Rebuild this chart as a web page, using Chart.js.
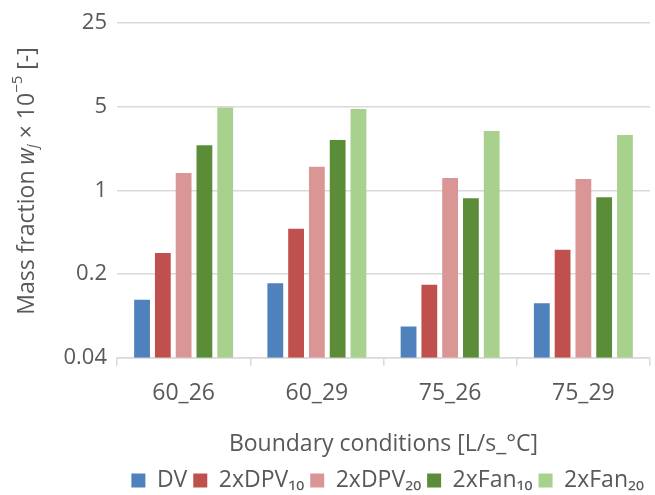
<!DOCTYPE html>
<html>
<head>
<meta charset="utf-8">
<script src="https://cdn.jsdelivr.net/npm/chart.js@4"></script>
<style>
  html, body { margin: 0; padding: 0; background: #fff; }
  #wrap { width: 655px; height: 495px; }
</style>
</head>
<body>
<div id="wrap"><canvas id="massChart"></canvas></div>
<script>
var categories = ['60_26', '60_29', '75_26', '75_29'];
var seriesNames = ['DV', '2xDPV\u2081\u2080', '2xDPV\u2082\u2080', '2xFan\u2081\u2080', '2xFan\u2082\u2080'];
var dv      = [0.122, 0.168, 0.073, 0.114];
var dpv10   = [0.30, 0.48, 0.163, 0.32];
var dpv20   = [1.40, 1.58, 1.27, 1.25];
var fan10   = [2.39, 2.64, 0.86, 0.88];
var fan20   = [4.93, 4.80, 3.14, 2.91];
var yTicks  = [0.04, 0.2, 1, 5, 25];

var colors = ['#4f81bd', '#c0504d', '#d99694', '#5b8c37', '#a9d18e'];
var font = "'Open Sans', 'Noto Sans', sans-serif";
var textColor = '#595959';

// y title has italic w, subscript j and superscript -5, so draw it by hand
var yTitlePlugin = {
    id: 'yTitle',
    afterDraw: function (chart) {
        var ctx = chart.ctx;
        var parts = [
            { t: 'Mass fraction ', f: '23px ' + font, dy: 0 },
            { t: 'w', f: 'italic 23px ' + font, dy: 0 },
            { t: 'j', f: 'italic 15px ' + font, dy: 6 },
            { t: ' \u00d7 10', f: '23px ' + font, dy: 0 },
            { t: '\u22125', f: '15px ' + font, dy: -9 },
            { t: ' [-]', f: '23px ' + font, dy: 0 }
        ];
        var total = 0;
        parts.forEach(function (p) { ctx.font = p.f; p.w = ctx.measureText(p.t).width; total += p.w; });
        ctx.save();
        ctx.translate(27, 181);
        ctx.rotate(-Math.PI / 2);
        ctx.fillStyle = textColor;
        ctx.textBaseline = 'middle';
        var x = -total / 2;
        parts.forEach(function (p) {
            ctx.font = p.f;
            ctx.fillText(p.t, x, p.dy);
            x += p.w;
        });
        ctx.restore();
    }
};

var allSeries = [dv, dpv10, dpv20, fan10, fan20];
var datasets = allSeries.map(function (vals, i) {
    return {
        label: seriesNames[i],
        data: vals,
        backgroundColor: colors[i],
        borderWidth: 0,
        categoryPercentage: 0.78,
        barPercentage: 0.76
    };
});

var ctx = document.getElementById('massChart').getContext('2d');
var massChart = new Chart(ctx, {
    type: 'bar',
    data: { labels: categories, datasets: datasets },
    plugins: [yTitlePlugin],
    options: {
        responsive: true,
        maintainAspectRatio: false,
        animation: false,
        layout: { padding: { top: 14, right: 5, bottom: -7 } },
        plugins: {
            tooltip: { enabled: false },
            legend: {
                position: 'bottom',
                align: 'end',
                labels: {
                    font: { family: font, size: 23 },
                    color: textColor,
                    boxWidth: 14,
                    boxHeight: 14,
                    padding: 6
                }
            }
        },
        scales: {
            x: {
                grid: {
                    offset: true,
                    drawOnChartArea: false,
                    color: '#d9d9d9',
                    lineWidth: 1.5,
                    tickLength: 8
                },
                border: { color: '#d9d9d9', width: 1.5 },
                ticks: {
                    font: { family: font, size: 23 },
                    color: textColor,
                    padding: 14
                },
                title: {
                    display: true,
                    text: 'Boundary conditions [L/s_\u00b0C]',
                    font: { family: font, size: 23 },
                    color: textColor,
                    padding: { top: 9, bottom: 5 }
                }
            },
            y: {
                type: 'logarithmic',
                min: 0.04,
                max: 25,
                afterBuildTicks: function (scale) {
                    scale.ticks = yTicks.map(function (v) { return { value: v }; });
                },
                afterFit: function (scale) { scale.width = 117; },
                grid: { color: '#d9d9d9', lineWidth: 1.5, drawTicks: false },
                border: { display: false },
                ticks: {
                    font: { family: font, size: 22 },
                    color: textColor,
                    padding: 10,
                    callback: function (v) { return String(v); }
                }
            }
        }
    }
});
</script>
</body>
</html>
